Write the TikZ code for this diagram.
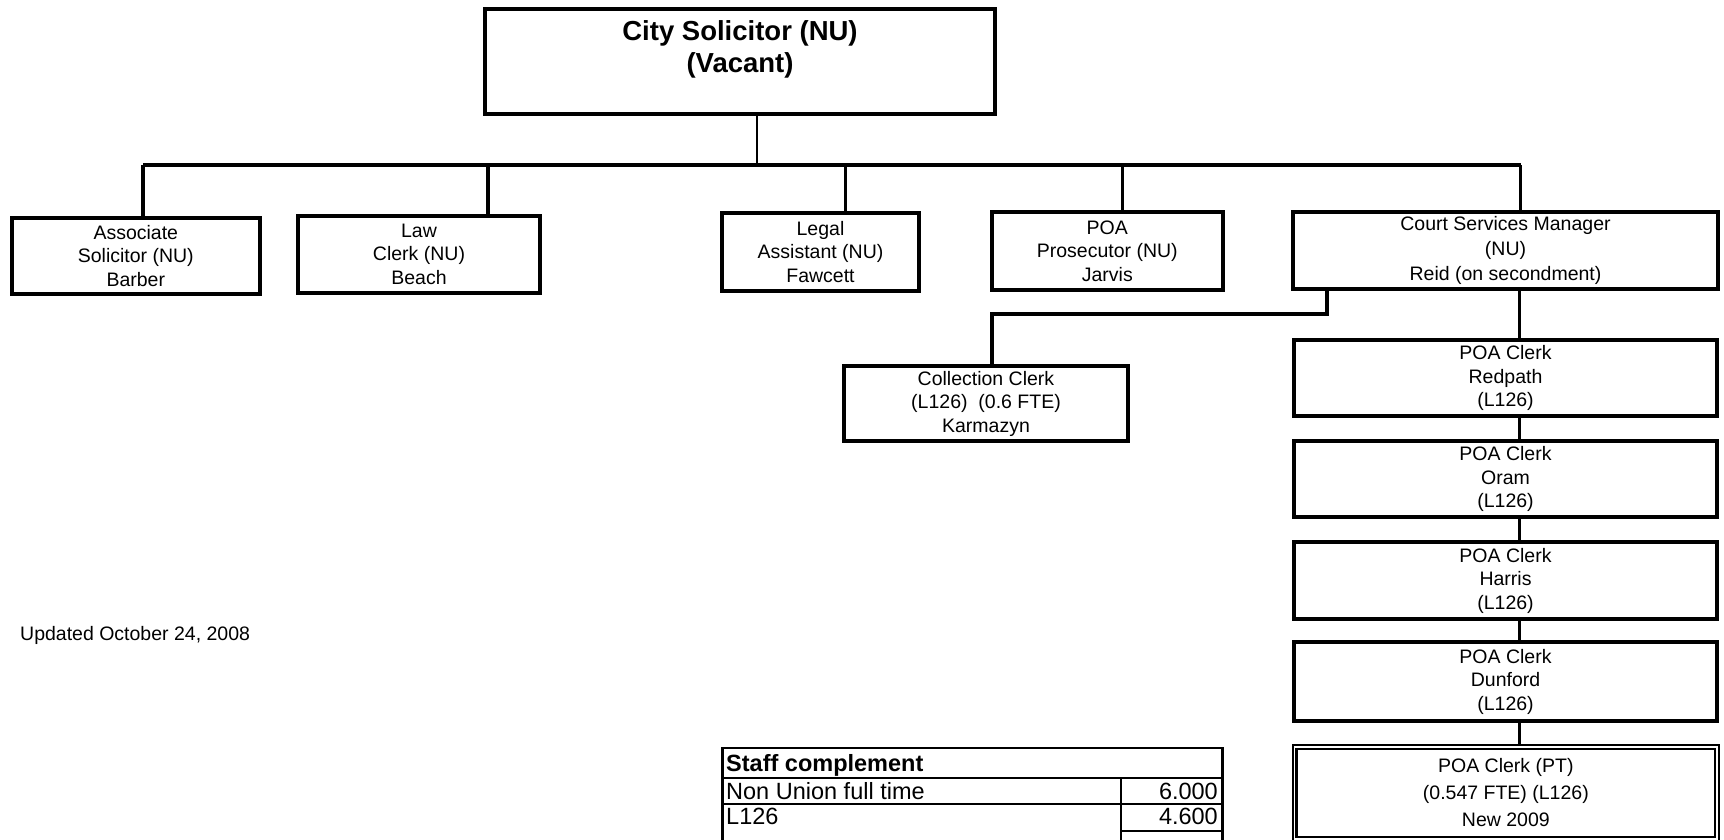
\documentclass[tikz,border=0pt]{standalone}
\usepackage{fontspec}
\setmainfont{Liberation Sans}
\usetikzlibrary{calc}
\begin{document}
\begin{tikzpicture}[x=1pt,y=-1pt,
  box/.style={draw, line width=4pt, rectangle, inner sep=0pt, outer sep=0pt,
    align=center, font=\fontsize{19.5}{23.5}\selectfont},
  conn/.style={line width=3.5pt},
  thinconn/.style={line width=2.5pt},
  tabtxt/.style={inner sep=0pt, font=\fontsize{23.5}{27}\selectfont},
  tabline/.style={line width=2pt},
  tabouter/.style={line width=2.8pt},
]
\useasboundingbox[fill=white] (0,0) rectangle (1724,840);

% top box
\node[box, minimum width=510pt, minimum height=105pt] (top) at (740,61.5) {};
\node[align=center, inner sep=0pt, font=\bfseries\fontsize{27.5}{32}\selectfont] (toptxt) at (740,49) {City Solicitor (NU)\\(Vacant)};

% first level
\node[box, minimum width=247.5pt, minimum height=76pt] (assoc) at (135.8,255.7) {Associate\\Solicitor (NU)\\Barber};
\node[box, minimum width=242pt, minimum height=77pt] (law) at (419,254) {Law\\Clerk (NU)\\Beach};
\node[box, minimum width=197pt, minimum height=78pt] (legal) at (820.5,252) {Legal\\Assistant (NU)\\Fawcett};
\node[box, minimum width=230.6pt, minimum height=78pt] (poap) at (1107.3,251) {POA\\Prosecutor (NU)\\Jarvis};
\node[box, minimum width=425pt, minimum height=77pt, font=\fontsize{19.5}{25}\selectfont] (court) at (1505.5,250.5) {Court Services Manager\\(NU)\\Reid (on secondment)};

% collection clerk
\node[box, minimum width=284pt, minimum height=75pt] (coll) at (986,403.5) {Collection Clerk\\(L126)\ \ (0.6 FTE)\\Karmazyn};

% POA clerks chain
\node[box, minimum width=423pt, minimum height=76pt] (redpath) at (1505.5,378) {POA Clerk\\Redpath\\(L126)};
\node[box, minimum width=423pt, minimum height=76pt] (oram) at (1505.5,479) {POA Clerk\\Oram\\(L126)};
\node[box, minimum width=423pt, minimum height=77pt] (harris) at (1505.5,580.5) {POA Clerk\\Harris\\(L126)};
\node[box, minimum width=423pt, minimum height=79pt] (dunford) at (1505.5,681.5) {POA Clerk\\Dunford\\(L126)};

% part-time box with double border
\node[draw, line width=1.8pt, inner sep=0pt, outer sep=0pt, minimum width=426.3pt, minimum height=97pt] (ptout) at (1505.85,793.5) {};
\node[draw, line width=2.8pt, inner sep=0pt, outer sep=0pt, minimum width=418.3pt, minimum height=88pt,
  align=center, font=\fontsize{19.5}{27}\selectfont] (pt) at (1505.85,793) {POA Clerk (PT)\\(0.547 FTE) (L126)\\New 2009};

% connectors
\coordinate (t) at (757,165);
\coordinate (d1) at (143,165);
\coordinate (d2) at (488,165);
\coordinate (d3) at (845.5,165);
\coordinate (d4) at (1122.6,165);
\coordinate (d5) at (1520.6,165);
\draw[thinconn] (top.south -| t) -- (t);
\draw[conn] (d1) -- (d5);
\draw[conn] (d1) -- (d1 |- assoc.north);
\draw[conn] (d2) -- (d2 |- law.north);
\draw[conn] (d3) -- (d3 |- legal.north);
\draw[conn] (d4) -- (d4 |- poap.north);
\draw[conn] (d5) -- (d5 |- court.north);

\coordinate (c1) at (1327,314);
\coordinate (c2) at (992,314);
\draw[conn] (c1 |- court.south) -- (c1) -- (c2) -- (c2 |- coll.north);

\coordinate (v) at (1519.5,0);
\draw[conn] (v |- court.south) -- (v |- redpath.north);
\draw[conn] (v |- redpath.south) -- (v |- oram.north);
\draw[conn] (v |- oram.south) -- (v |- harris.north);
\draw[conn] (v |- harris.south) -- (v |- dunford.north);
\draw[conn] (v |- dunford.south) -- (v |- ptout.north);

% note
\node[anchor=west, inner sep=0pt, font=\fontsize{19.5}{23.5}\selectfont] (upd) at (20,635.5) {Updated October 24, 2008};

% staff complement table
\draw[tabouter] (722.4,845) -- (722.4,748) -- (1222.6,748) -- (1222.6,845);
\draw[tabline] (722.4,778) -- (1222.6,778);
\draw[tabline] (722.4,804) -- (1222.6,804);
\draw[tabline] (1121,778) -- (1121,845);
\draw[tabline] (1121,831) -- (1222.6,831);
\node[tabtxt, anchor=base west, font=\bfseries\fontsize{23.5}{27}\selectfont] (th) at (726,771.5) {Staff complement};
\node[tabtxt, anchor=base west] (nu) at (726,799.5) {Non Union full time};
\node[tabtxt, anchor=base east] (nuv) at (1218,799.5) {6.000};
\node[tabtxt, anchor=base west] (l126) at (726,824.5) {L126};
\node[tabtxt, anchor=base east] (l126v) at (1218,824.5) {4.600};
\end{tikzpicture}
\end{document}
